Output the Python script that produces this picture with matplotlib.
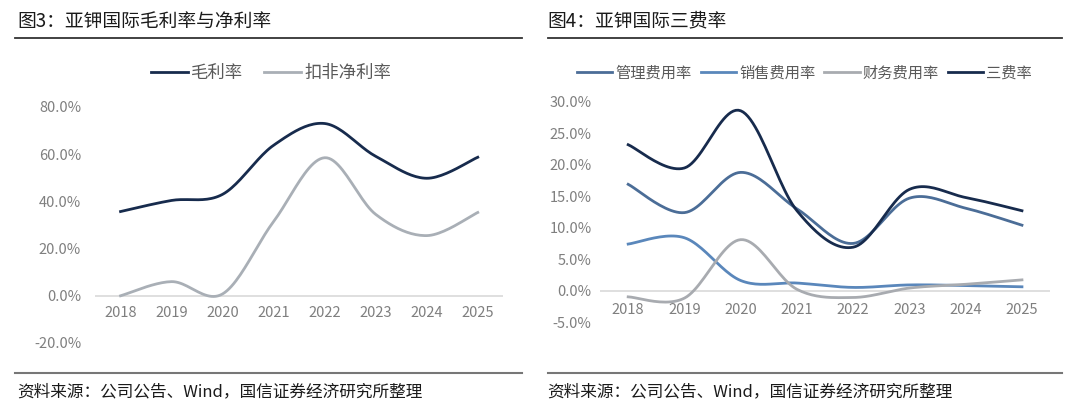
import numpy as np
import matplotlib.pyplot as plt
from matplotlib.lines import Line2D

plt.rcParams['font.family'] = ['Noto Sans CJK SC', 'DejaVu Sans']

years = ['2018', '2019', '2020', '2021', '2022', '2023', '2024', '2025']

# 图3 (%)
gross_margin = [35.7, 40.4, 43.0, 63.8, 73.0, 59.1, 49.8, 58.7]
net_margin = [0.0, 6.0, 0.8, 31.5, 58.5, 34.5, 25.5, 35.3]

# 图4 (%)
mgmt_rate = [16.9, 12.4, 18.8, 13.0, 7.5, 14.7, 13.1, 10.4]
sales_rate = [7.4, 8.4, 1.6, 1.2, 0.5, 0.9, 0.8, 0.6]
fin_rate = [-1.0, -1.2, 8.1, 0.2, -1.1, 0.4, 1.0, 1.7]
three_rate = [23.2, 19.5, 28.6, 12.7, 6.9, 16.1, 14.8, 12.7]

left_ticks = [-20, 0, 20, 40, 60, 80]
right_ticks = [-5, 0, 5, 10, 15, 20, 25, 30]

NAVY = '#172b4d'
GRAY_LINE = '#a9afb6'
STEEL = '#4b6d97'
BLUE = '#5a87bb'
FIN_GRAY = '#a8abb0'
TICK = '#7f7f7f'
LW = 2.0


def smooth(xs, ys, n=24):
    '''
    Bezier smoothing like office charts (Catmull-Rom control points).
    '''
    p = np.column_stack([xs, ys]).astype(float)
    pts = []
    for i in range(len(p) - 1):
        p0 = p[i - 1] if i > 0 else p[i]
        p3 = p[i + 2] if i + 2 < len(p) else p[i + 1]
        c1 = p[i] + (p[i + 1] - p0) / 6
        c2 = p[i + 1] - (p3 - p[i]) / 6
        t = np.linspace(0, 1, n)[:, None]
        seg = ((1 - t)**3 * p[i] + 3 * (1 - t)**2 * t * c1
               + 3 * (1 - t) * t**2 * c2 + t**3 * p[i + 1])
        pts.append(seg if i == 0 else seg[1:])
    pts = np.vstack(pts)
    return pts[:, 0], pts[:, 1]


def style_axis(ax, ticks, pad, label_y):
    for s in ax.spines.values():
        s.set_visible(False)
    ax.axhline(0, color='#d9d9d9', lw=1.2, zorder=1)
    ax.set_xticks([])
    ax.set_yticks(ticks)
    ax.set_yticklabels(['%.1f%%' % v for v in ticks])
    ax.tick_params(length=0, colors=TICK, labelsize=10.5, pad=pad)
    ax.set_xlim(-0.5, 7.5)
    ax.set_ylim(ticks[0], ticks[-1])
    # year labels sit just below the zero line
    for i, yr in enumerate(years):
        ax.text(i, label_y, yr, ha='center', va='top', color=TICK, fontsize=10.5)


fig = plt.figure(figsize=(10.8, 4.09), dpi=100)
x = np.arange(len(years))

# left chart
ax1 = fig.add_axes([0.088, 0.1614, 0.378, 0.577])
style_axis(ax1, left_ticks, 10, -4.5)
sx, sy = smooth(x, gross_margin)
ax1.plot(sx, sy, color=NAVY, lw=LW, zorder=3)
sx, sy = smooth(x, net_margin)
ax1.plot(sx, sy, color=GRAY_LINE, lw=LW, zorder=2)

h1 = [Line2D([], [], color=NAVY, lw=LW), Line2D([], [], color=GRAY_LINE, lw=LW)]
fig.legend(h1, ['毛利率', '扣非净利率'], loc='center', bbox_to_anchor=(0.251, 0.822),
           ncol=2, frameon=False, fontsize=12.5, labelcolor='#595959',
           handlelength=2.1, columnspacing=1.2, handletextpad=0.2)

# right chart
ax2 = fig.add_axes([0.5556, 0.2127, 0.4167, 0.538])
style_axis(ax2, right_ticks, 6, -1.9)
series = [(mgmt_rate, STEEL), (sales_rate, BLUE), (fin_rate, FIN_GRAY), (three_rate, NAVY)]
for vals, col in series:
    sx, sy = smooth(x, vals)
    ax2.plot(sx, sy, color=col, lw=LW, zorder=3 if col == NAVY else 2)

h2 = [Line2D([], [], color=c, lw=LW) for _, c in series]
fig.legend(h2, ['管理费用率', '销售费用率', '财务费用率', '三费率'], loc='center',
           bbox_to_anchor=(0.745, 0.822), ncol=4, frameon=False, fontsize=11,
           labelcolor='#595959', handlelength=2.3, columnspacing=0.6, handletextpad=0.2)

# titles, rules and sources
fig.text(0.016, 0.948, '图3：亚钾国际毛利率与净利率', fontsize=13.5, va='center', color='#1a1a1a')
fig.text(0.507, 0.948, '图4：亚钾国际三费率', fontsize=13.5, va='center', color='#1a1a1a')
for x0, x1 in [(0.014, 0.483), (0.507, 0.983)]:
    fig.add_artist(Line2D([x0, x1], [0.907, 0.907], color='#333333', lw=1.3))
    fig.add_artist(Line2D([x0, x1], [0.088, 0.088], color='#777777', lw=1.5))
fig.text(0.016, 0.041, '资料来源：公司公告、Wind，国信证券经济研究所整理', fontsize=12, va='center', color='#1a1a1a')
fig.text(0.507, 0.041, '资料来源：公司公告、Wind，国信证券经济研究所整理', fontsize=12, va='center', color='#1a1a1a')

fig.savefig('out.png', dpi=100)
